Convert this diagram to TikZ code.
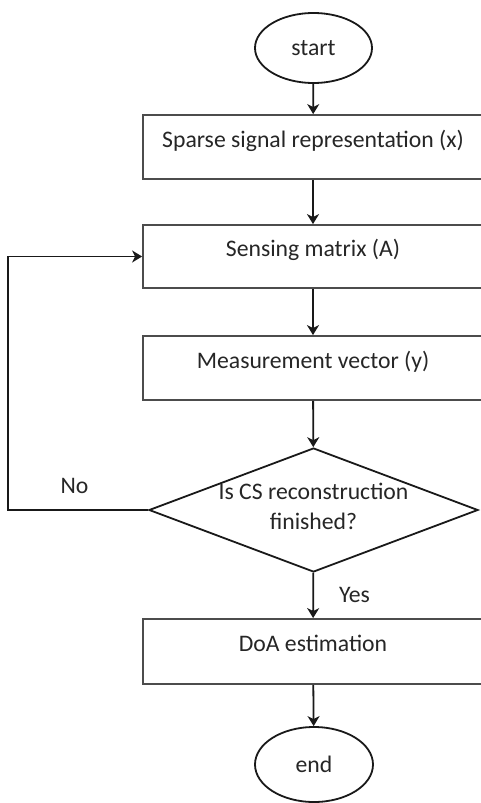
\documentclass[tikz,border=0pt]{standalone}
\usepackage{fontspec}
\setmainfont{Carlito}
\usetikzlibrary{shapes.geometric,arrows.meta}
\begin{document}
\begin{tikzpicture}[x=1pt,y=-1pt,
  every node/.style={font=\fontsize{23.7}{30}\selectfont, text=black!85},
  arrow/.style={line width=1.8pt, draw=black!90, -{Stealth[length=10pt,width=12pt,inset=3pt]}},
  term/.style={ellipse, draw=black!90, line width=1.8pt, minimum width=117pt, inner sep=0pt},
  procbox/.style={rectangle, draw=black!70, line width=1.8pt, minimum width=340pt, inner sep=0pt, text height=10pt, text depth=10pt},
  decision/.style={diamond, draw=black!90, line width=1.8pt, minimum width=329pt, minimum height=124pt, inner sep=0pt},
  plain/.style={inner sep=0pt, align=center}
]
\useasboundingbox (0,0) rectangle (481,803);
\clip (0,0) rectangle (481,803);
\fill[white] (0,0) rectangle (481,803);

\node[term, minimum height=70pt] (start) at (313.5,48) {start};
\node[procbox, minimum height=64pt] (b1) at (313,147) {Sparse signal representation (x)};
\node[procbox, minimum height=63pt] (b2) at (313,256.5) {Sensing matrix (A)};
\node[procbox, minimum height=64pt] (b3) at (313,368) {Measurement vector (y)};
\node[decision] (dec) at (313.5,510) {};
\node[plain] (dectext) at (313.5,506) {Is CS reconstruction\\finished?};
\node[procbox, minimum height=65pt] (b4) at (313,651.5) {DoA estimation};
\node[term, minimum height=75pt, minimum width=118pt] (end) at (314,764.5) {end};

\coordinate (lft) at (8,0);

\draw[arrow] (start) -- (b1);
\draw[arrow] (b1) -- (b2);
\draw[arrow] (b2) -- (b3);
\draw[arrow] (b3) -- (dec);
\draw[arrow] (dec) -- (b4);
\draw[arrow] (b4) -- (end);
\draw[arrow] (dec.west) -- (dec.west -| lft) -- (b2.west -| lft) -- (b2.west);

\node[anchor=base] (no) at (74.5,493) {No};
\node[anchor=base] (yes) at (354.5,602) {Yes};
\end{tikzpicture}
\end{document}
